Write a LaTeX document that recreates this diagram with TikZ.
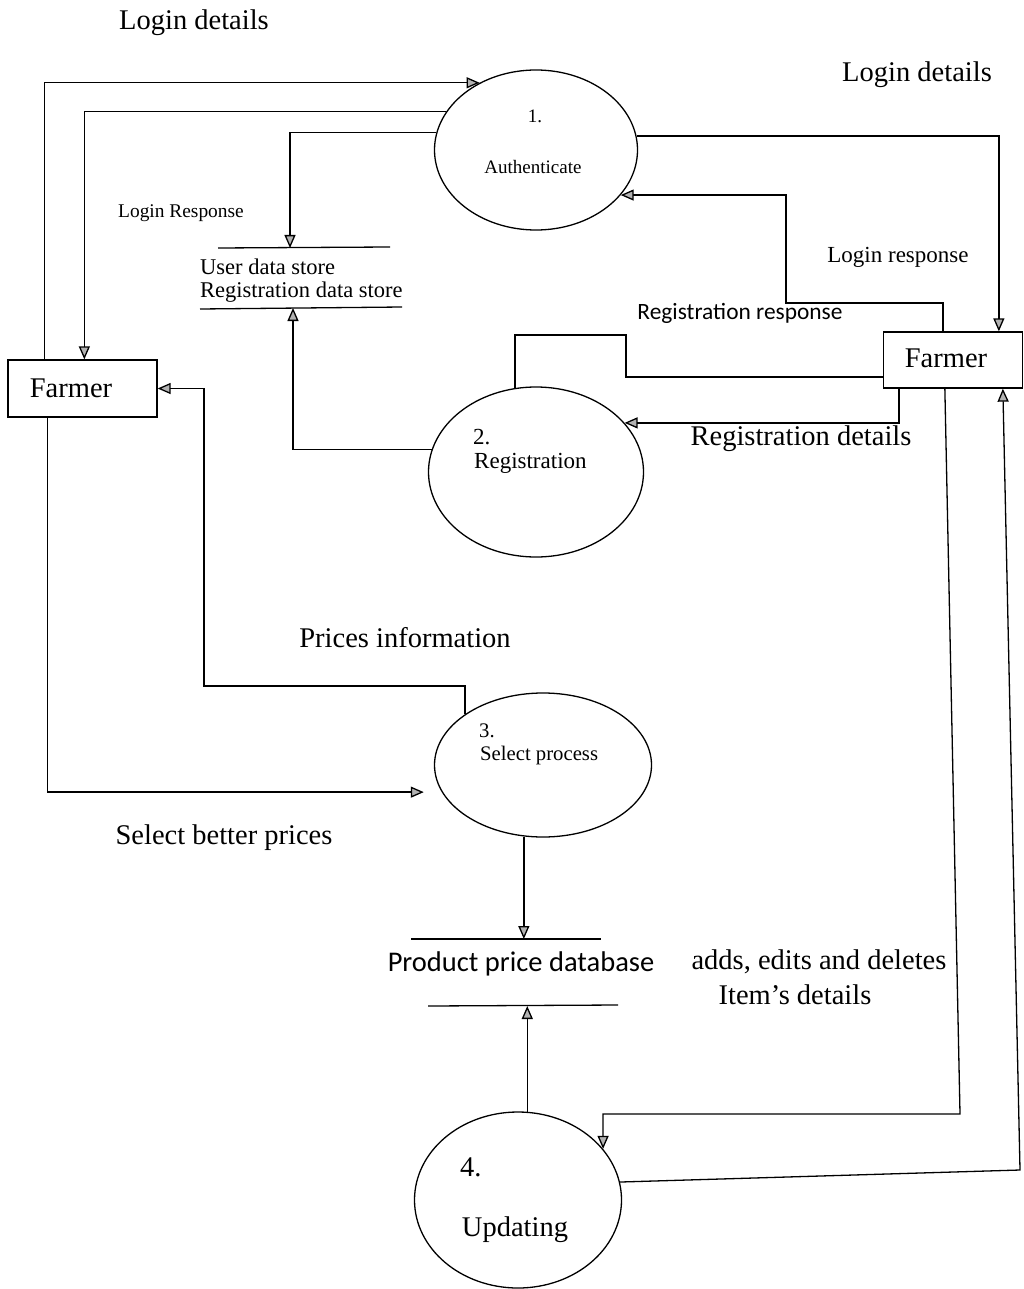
\documentclass[tikz,border=0pt]{standalone}
\usepackage{fontspec}
\setmainfont{Liberation Serif}
\newfontfamily\calfont{Carlito}
\usetikzlibrary{shapes.geometric,arrows.meta}
\newcommand\fsz[1]{\fontsize{#1}{#1}\selectfont}
\begin{document}
\begin{tikzpicture}[x=1pt,y=-1pt,
  ln/.style={line width=1.3pt},
  arr/.style={ln,-{Triangle[length=13pt,width=11pt,fill=gray!60]}},
  proc/.style={ellipse,draw,line width=1.3pt,inner sep=0pt},
  ent/.style={rectangle,draw,line width=1.3pt,inner sep=0pt},
  lbl/.style={inner sep=0pt},
  big/.style={lbl,font=\fsz{28.5}}]
\useasboundingbox (0,0) rectangle (1024,1289);

% external entities
\node[ent,minimum width=149pt,minimum height=57pt] (farmerL) at (82.5,388.5) {};
\node[big] (farmerLt) at (71,388) {Farmer};
\node[ent,minimum width=139pt,minimum height=56pt] (farmerR) at (953,360) {};
\node[big] (farmerRt) at (946,358) {Farmer};

% processes
\node[proc,minimum width=203pt,minimum height=160pt] (auth) at (536,150) {};
\node[lbl,font=\fsz{19}] (authn) at (535,116) {1.};
\node[lbl,font=\fsz{19}] (autht) at (533,167) {Authenticate};

\node[proc,minimum width=215pt,minimum height=170pt] (reg) at (536,472) {};
\node[lbl,font=\fsz{23},anchor=west] (regn) at (473,437) {2.};
\node[lbl,font=\fsz{23},anchor=west] (regt) at (474,463) {Registration};

\node[proc,minimum width=217pt,minimum height=144pt] (sel) at (543,765) {};
\node[lbl,font=\fsz{20.7},anchor=west] (seln) at (479,731) {3.};
\node[lbl,font=\fsz{20.7},anchor=west] (selt) at (480,756) {Select process};

\node[proc,minimum width=207pt,minimum height=176pt] (upd) at (518,1200) {};
\node[big,anchor=west] (updn) at (460,1167) {4.};
\node[big] (updt) at (515,1230) {Updating};

% data stores
\node[lbl,font=\fsz{22.5},anchor=west] (store1a) at (200,267) {User data store};
\node[lbl,font=\fsz{22.5},anchor=west] (store1b) at (200,292) {Registration data store};
\coordinate (s1tl) at (218,248); \coordinate (s1tr) at (390,247);
\coordinate (s1bl) at (200,309); \coordinate (s1br) at (402,307);
\draw[ln] (s1tl) -- (s1tr);
\draw[ln] (s1bl) -- (s1br);
\coordinate (s1in) at (290,248);
\coordinate (s1out) at (293,308);

\node[lbl,font={\calfont\fsz{28.5}}] (store2) at (521,964) {Product price database};
\coordinate (s2tl) at (411,939); \coordinate (s2tr) at (601,939);
\coordinate (s2bl) at (428,1006); \coordinate (s2br) at (618,1005);
\draw[ln] (s2tl) -- (s2tr);
\draw[ln] (s2bl) -- (s2br);
\coordinate (s2top) at (521,939);
\coordinate (s2bot) at (521,1006);

% labels
\node[big] (l1) at (194,23) {Login details};
\node[big] (l2) at (917,75) {Login details};
\node[lbl,font=\fsz{19.4}] (l3) at (181,213) {Login Response};
\node[lbl,font=\fsz{23}] (l4) at (898,257) {Login response};
\node[lbl,font={\calfont\fsz{23.4}}] (l5) at (740,313) {Registration response};
\node[big] (l6) at (801,439) {Registration details};
\node[big] (l7) at (405,638) {Prices information};
\node[big] (l8) at (224,838) {Select better prices};
\node[big] (l9) at (819,962) {adds, edits and deletes};
\node[big] (l10) at (795,995) {Item’s details};

% connectors
\draw[arr] ([xshift=37pt]farmerL.north west) |- (auth.130);
\draw[arr] (auth.157) -| ([xshift=77pt]farmerL.north west);
\draw[arr] (auth.170) -| (s1in);
\draw[arr] (reg.168) -| (s1out);
\draw[arr] (auth.8) -| ([xshift=116pt]farmerR.north west);
\coordinate (c6a) at (786,303);
\draw[arr] ([xshift=60pt]farmerR.north west) |- (c6a) |- (auth.-28);
\coordinate (c7a) at (626,335);
\draw[ln] ([yshift=-17pt]farmerR.west) -| (c7a) -| (reg.104);
\draw[arr] ([xshift=16pt]farmerR.south west) |- (reg.29);
\coordinate (c9a) at (204,686);
\draw[arr] (sel.147) |- (c9a) |- (farmerL.east);
\draw[arr,shorten >=18pt] ([xshift=40pt]farmerL.south west) |- (sel.195);
\draw[arr] (sel.-105) -- (sel.-105 |- s2top);
\draw[arr] (upd.84) -- (upd.84 |- s2bot);
\coordinate (c13a) at (960,1114);
\draw[arr] ([xshift=62pt]farmerR.south west) -- (c13a) -| (upd.31);
\coordinate (c14a) at (1020,1170);
\draw[arr] (upd.10) -- (c14a) -- ([xshift=120pt]farmerR.south west);
\end{tikzpicture}
\end{document}
